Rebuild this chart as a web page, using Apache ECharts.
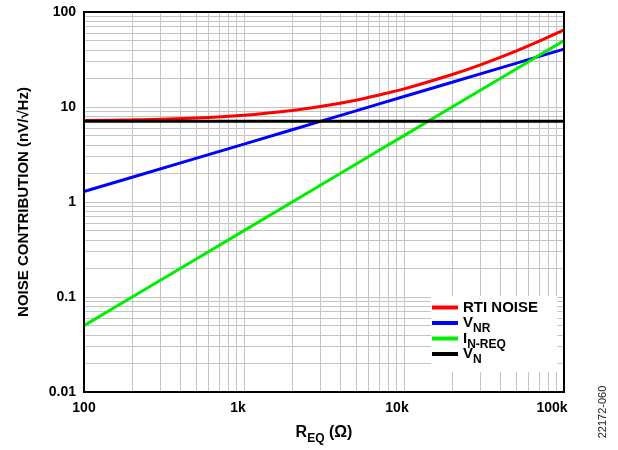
<!DOCTYPE html>
<html>
<head>
<meta charset="utf-8">
<script src="https://cdn.jsdelivr.net/npm/echarts@6/dist/echarts.min.js"></script>
<style>html,body{margin:0;padding:0;background:#fff;}#c{width:618px;height:450px;}</style>
</head>
<body>
<div id="c"></div>
<script>
// Resistance values (Ω) at which curves were read
const rEq = [100, 200, 500, 1000, 2000, 3000, 5000, 7000, 10000, 20000, 30000, 50000, 70000, 100000];
// Series values (nV/√Hz)
const rtiNoise = [7.22, 7.33, 7.67, 8.20, 9.20, 10.1, 11.8, 13.4, 15.5, 22.0, 27.8, 38.8, 49.4, 64.9];
const vNR      = [1.29, 1.82, 2.88, 4.07, 5.76, 7.05, 9.10, 10.8, 12.9, 18.2, 22.3, 28.8, 34.1, 40.7];
const inReq    = [0.05, 0.10, 0.25, 0.50, 1.00, 1.50, 2.50, 3.50, 5.00, 10.0, 15.0, 25.0, 35.0, 50.0];
const vN       = [7.1, 7.1, 7.1, 7.1, 7.1, 7.1, 7.1, 7.1, 7.1, 7.1, 7.1, 7.1, 7.1, 7.1];
// Tick labels
const xTickLabels = ['100', '1k', '10k', '100k'];
const yTickLabels = ['0.01', '0.1', '1', '10', '100'];
// Legend names
const seriesNames = ['RTI NOISE', 'V_NR', 'I_N-REQ', 'V_N'];
const legendText = {
  'RTI NOISE': '{m|RTI NOISE}{s| }',
  'V_NR': '{m|V}{s|NR}',
  'I_N-REQ': '{m|I}{s|N-REQ}',
  'V_N': '{m|V}{s|N}'
};

const FONT = 'Liberation Sans, Arial, Helvetica, sans-serif';

// minor grid lines (2..9 per decade)
const minorMult = [2, 3, 4, 5, 6, 7, 8, 9];
const xDecades = [100, 1000, 10000];
const yDecades = [0.01, 0.1, 1, 10];
const gridLines = [];
xDecades.forEach(d => minorMult.forEach(m => gridLines.push({ xAxis: d * m })));
yDecades.forEach(d => minorMult.forEach(m => gridLines.push({ yAxis: +(d * m).toPrecision(3) })));

function pairs(ys) { return rEq.map((x, i) => [x, ys[i]]); }

const chart = echarts.init(document.getElementById('c'), null, { renderer: 'canvas' });
const gridColor = '#c4c4c4';
chart.setOption({
  animation: false,
  backgroundColor: '#fff',
  textStyle: { fontFamily: FONT },
  grid: { left: 84, right: 54, top: 12, bottom: 54, show: true, borderColor: '#000', borderWidth: 2, backgroundColor: 'transparent', z: 30 },
  xAxis: {
    type: 'log', logBase: 10, min: 100, max: 100000,
    axisLine: { show: false }, axisTick: { show: false },
    splitLine: { show: true, lineStyle: { color: gridColor, width: 1 } },
    axisLabel: {
      margin: 9,
      formatter: function (v) {
        const i = Math.round(Math.log10(v)) - 2;
        const t = xTickLabels[i];
        return '{k' + i + '|' + t + '}';
      },
      rich: {
        k0: { fontSize: 14, fontWeight: 'bold', color: '#000', fontFamily: FONT },
        k1: { fontSize: 14, fontWeight: 'bold', color: '#000', fontFamily: FONT, padding: [0, 12, 0, 0] },
        k2: { fontSize: 14, fontWeight: 'bold', color: '#000', fontFamily: FONT, padding: [0, 14, 0, 0] },
        k3: { fontSize: 14, fontWeight: 'bold', color: '#000', fontFamily: FONT, padding: [0, 24, 0, 0] }
      }
    },
    name: '{m|R}{s|EQ}{m| (Ω)}',
    nameLocation: 'middle',
    nameGap: 32,
    nameTextStyle: {
      rich: {
        m: { fontSize: 16, fontWeight: 'bold', color: '#000', fontFamily: FONT, lineHeight: 18 },
        s: { fontSize: 12, fontWeight: 'bold', color: '#000', fontFamily: FONT, height: 6, lineHeight: 6, verticalAlign: 'bottom' }
      }
    }
  },
  yAxis: {
    type: 'log', logBase: 10, min: 0.01, max: 100,
    axisLine: { show: false }, axisTick: { show: false },
    splitLine: { show: true, lineStyle: { color: gridColor, width: 1 } },
    axisLabel: {
      margin: 8, fontSize: 14, fontWeight: 'bold', color: '#000', fontFamily: FONT,
      formatter: function (v) { return yTickLabels[Math.round(Math.log10(v)) + 2]; }
    },
    name: 'NOISE CONTRIBUTION (nV/√Hz)',
    nameLocation: 'middle',
    nameGap: 53,
    nameTextStyle: { fontSize: 15, fontWeight: 'bold', color: '#000', fontFamily: FONT }
  },
  legend: {
    orient: 'vertical',
    left: 431, top: 296,
    padding: [4, 16, 6, 1],
    backgroundColor: '#fff',
    z: 40,
    itemGap: -4,
    itemWidth: 26, itemHeight: 4,
    icon: 'rect',
    data: seriesNames,
    formatter: function (n) { return legendText[n]; },
    textStyle: {
      rich: {
        m: { fontSize: 15, fontWeight: 'bold', color: '#000', fontFamily: FONT, lineHeight: 16 },
        s: { fontSize: 12, fontWeight: 'bold', color: '#000', fontFamily: FONT, height: 4, lineHeight: 4, verticalAlign: 'bottom' }
      }
    }
  },
  graphic: [{
    type: 'text', x: 603, y: 412, rotation: Math.PI / 2,
    style: { text: '22172-060', fontSize: 11, fill: '#222', fontFamily: FONT, align: 'center', verticalAlign: 'middle' }
  }],
  series: [
    {
      name: '__grid', type: 'line', data: [], z: 1, silent: true,
      markLine: {
        silent: true, symbol: ['none', 'none'], label: { show: false },
        z: 1,
        lineStyle: { color: gridColor, width: 1, type: 'solid' },
        emphasis: { disabled: true },
        animation: false,
        data: gridLines
      }
    },
    { name: seriesNames[0], type: 'line', data: pairs(rtiNoise), showSymbol: false, smooth: 0.3, lineStyle: { color: '#ff0000', width: 3 }, itemStyle: { color: '#ff0000' }, z: 20 },
    { name: seriesNames[1], type: 'line', data: pairs(vNR), showSymbol: false, lineStyle: { color: '#0000ff', width: 3 }, itemStyle: { color: '#0000ff' }, z: 20 },
    { name: seriesNames[2], type: 'line', data: pairs(inReq), showSymbol: false, lineStyle: { color: '#00ee00', width: 3 }, itemStyle: { color: '#00ee00' }, z: 20 },
    { name: seriesNames[3], type: 'line', data: pairs(vN), showSymbol: false, lineStyle: { color: '#000000', width: 3 }, itemStyle: { color: '#000000' }, z: 20 }
  ]
});
</script>
</body>
</html>
